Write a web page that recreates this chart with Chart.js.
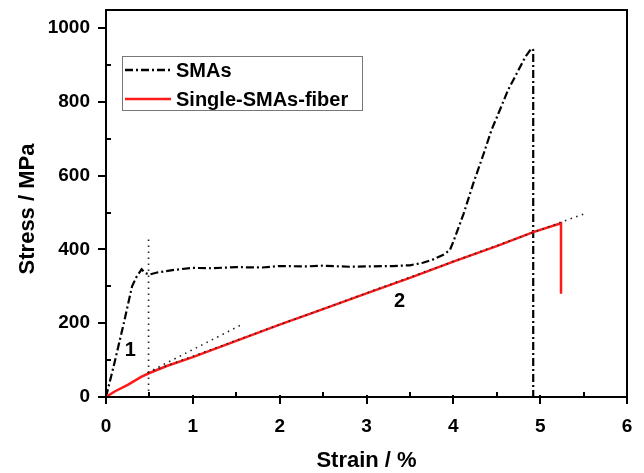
<!DOCTYPE html>
<html>
<head>
<meta charset="utf-8">
<script src="https://cdn.jsdelivr.net/npm/chart.js@4/dist/chart.umd.min.js"></script>
<style>
  html, body { margin: 0; padding: 0; background: #fff; }
</style>
</head>
<body>
<canvas id="c" width="644" height="473"></canvas>
<script>
// SMAs curve (black dash-dot)
const smaStrain = [0, 0.1, 0.2, 0.3, 0.35, 0.41, 0.45, 0.5, 0.6, 0.8, 1.0, 1.2, 1.5, 1.8, 2.0, 2.3, 2.5, 2.8, 3.0, 3.3, 3.5, 3.65, 3.77, 3.88, 3.96, 4.0, 4.12, 4.23, 4.35, 4.44, 4.52, 4.63, 4.73, 4.83, 4.90, 4.92, 4.92]
const smaStress = [0, 95, 195, 300, 325, 346, 336, 332, 338, 345, 350, 349, 352, 351, 355, 354, 356, 353, 354, 355, 357, 364, 373, 385, 398, 421, 498, 579, 660, 724, 769, 832, 877, 922, 945, 940, 0]

// Single-SMAs-fiber curve (red)
const fiberStrain = [0, 0.1, 0.25, 0.4, 0.5, 0.7, 1.0, 1.5, 2.0, 2.5, 3.0, 3.5, 4.0, 4.5, 4.92, 5.24, 5.24]
const fiberStress = [0, 15, 33, 54, 65, 84, 108, 152, 196, 238, 281, 323, 367, 409, 447, 471, 280]

// dotted guide lines
const guideVert = [[0.49, 0], [0.49, 435]]
const guide1 = [[0.48, 66], [1.57, 197]]
const guide2 = [[0.48, 66], [5.5, 496]]

// axis ticks
const xTicks = [0, 1, 2, 3, 4, 5, 6]
const xMinor = [0.5, 1.5, 2.5, 3.5, 4.5, 5.5]
const yTicks = [0, 200, 400, 600, 800, 1000]
const yMinor = [100, 300, 500, 700, 900]
const xRange = [0, 6]
const yRange = [0, 1049]

// region labels
const notes = [{text: '1', x: 0.28, y: 127}, {text: '2', x: 3.38, y: 259}]

const legendItems = [
    {label: 'SMAs', color: '#000', dash: [8, 3, 2, 3]},
    {label: 'Single-SMAs-fiber', color: '#ff1a1a', dash: []}
]

const FONT = '"Liberation Sans", Arial, sans-serif'

function pts(xs, ys) {
    return xs.map((x, i) => ({x: x, y: ys[i]}))
}
function pairPts(arr) {
    return arr.map(p => ({x: p[0], y: p[1]}))
}

function dotted(data) {
    return {
        data: data,
        borderColor: '#222',
        borderWidth: 1.6,
        borderDash: [1.5, 4.5],
        pointRadius: 0,
        showLine: true,
        fill: false
    }
}

function noPad(s) {
    s.paddingLeft = 0; s.paddingRight = 0; s.paddingTop = 0; s.paddingBottom = 0
}

// frame, ticks, titles, notes and legend; all positions come from the scales
const decor = {
    id: 'decor',
    afterDraw(chart) {
        const ctx = chart.ctx
        const xs = chart.scales.x, ys = chart.scales.y
        const L = Math.round(xs.getPixelForValue(xRange[0]))
        const R = Math.round(xs.getPixelForValue(xRange[1]))
        const B = Math.round(ys.getPixelForValue(yRange[0]))
        const T = Math.round(ys.getPixelForValue(yRange[1]))

        ctx.save()
        ctx.setLineDash([])
        ctx.lineDashOffset = 0
        ctx.globalAlpha = 1
        ctx.fillStyle = '#000'
        // frame as filled bars (2px)
        ctx.fillRect(L - 1, T - 1, R - L + 2, 2)
        ctx.fillRect(L - 1, B - 1, R - L + 2, 2)
        ctx.fillRect(L - 1, T - 1, 2, B - T + 2)
        ctx.fillRect(R - 1, T - 1, 2, B - T + 2)

        xTicks.forEach(v => {
            let px = Math.round(xs.getPixelForValue(v))
            ctx.fillRect(px - 1, B - 2, 2, 9)
        })
        xMinor.forEach(v => {
            let px = Math.round(xs.getPixelForValue(v))
            ctx.fillRect(px - 1, B - 5, 2, 5)
        })
        yTicks.forEach(v => {
            let py = Math.round(ys.getPixelForValue(v))
            ctx.fillRect(L - 8, py - 1, 9, 2)
        })
        yMinor.forEach(v => {
            let py = Math.round(ys.getPixelForValue(v))
            ctx.fillRect(L, py - 1, 5, 2)
        })

        // axis titles
        ctx.font = 'bold 22px ' + FONT
        ctx.textAlign = 'center'
        ctx.textBaseline = 'alphabetic'
        ctx.fillText('Strain / %', (L + R) / 2, 467)
        ctx.save()
        ctx.translate(34, 209)
        ctx.rotate(-Math.PI / 2)
        ctx.fillText('Stress / MPa', 0, 0)
        ctx.restore()

        // region labels
        ctx.font = 'bold 20px ' + FONT
        ctx.textBaseline = 'middle'
        notes.forEach(n => {
            ctx.fillText(n.text, xs.getPixelForValue(n.x), ys.getPixelForValue(n.y))
        })

        // legend
        const lx = 122, ly = 56, lw = 240, lh = 54
        ctx.lineWidth = 1
        ctx.strokeStyle = '#777'
        ctx.strokeRect(lx + 0.5, ly + 0.5, lw, lh)
        legendItems.forEach((it, i) => {
            let cy = ly + 14 + i * 29
            ctx.strokeStyle = it.color
            ctx.lineWidth = 2.5
            ctx.setLineDash(it.dash)
            ctx.beginPath()
            ctx.moveTo(125, cy); ctx.lineTo(171, cy)
            ctx.stroke()
            ctx.setLineDash([])
            ctx.fillStyle = '#000'
            ctx.textAlign = 'left'
            ctx.font = 'bold 20px ' + FONT
            ctx.fillText(it.label, 176, cy + 1)
        })
        ctx.restore()
    }
}

new Chart(document.getElementById('c'), {
    type: 'scatter',
    data: {
        datasets: [
            dotted(pairPts(guideVert)),
            dotted(pairPts(guide1)),
            dotted(pairPts(guide2)),
            {
                label: 'Single-SMAs-fiber',
                data: pts(fiberStrain, fiberStress),
                borderColor: '#ff1a1a',
                borderWidth: 2.5,
                pointRadius: 0,
                showLine: true,
                fill: false
            },
            {
                label: 'SMAs',
                data: pts(smaStrain, smaStress),
                borderColor: '#000',
                borderWidth: 2.2,
                borderDash: [8, 3, 2, 3],
                pointRadius: 0,
                showLine: true,
                fill: false
            }
        ]
    },
    options: {
        responsive: false,
        animation: false,
        layout: {padding: {top: 10, right: 17, left: 0, bottom: 0}},
        plugins: {legend: {display: false}, tooltip: {enabled: false}},
        scales: {
            x: {
                type: 'linear', min: xRange[0], max: xRange[1],
                grid: {display: false, drawTicks: false},
                border: {display: false},
                afterBuildTicks: s => { s.ticks = xTicks.map(v => ({value: v})) },
                afterFit: s => { s.height = 76; noPad(s) },
                ticks: {color: '#000', padding: 18, font: {family: FONT, size: 19, weight: 'bold'},
                        callback: v => String(v)}
            },
            y: {
                type: 'linear', min: yRange[0], max: yRange[1],
                grid: {display: false, drawTicks: false},
                border: {display: false},
                afterBuildTicks: s => { s.ticks = yTicks.map(v => ({value: v})) },
                afterFit: s => { s.width = 106; noPad(s) },
                ticks: {color: '#000', padding: 16, font: {family: FONT, size: 19, weight: 'bold'},
                        callback: v => String(v)}
            }
        }
    },
    plugins: [decor]
})
</script>
</body>
</html>
